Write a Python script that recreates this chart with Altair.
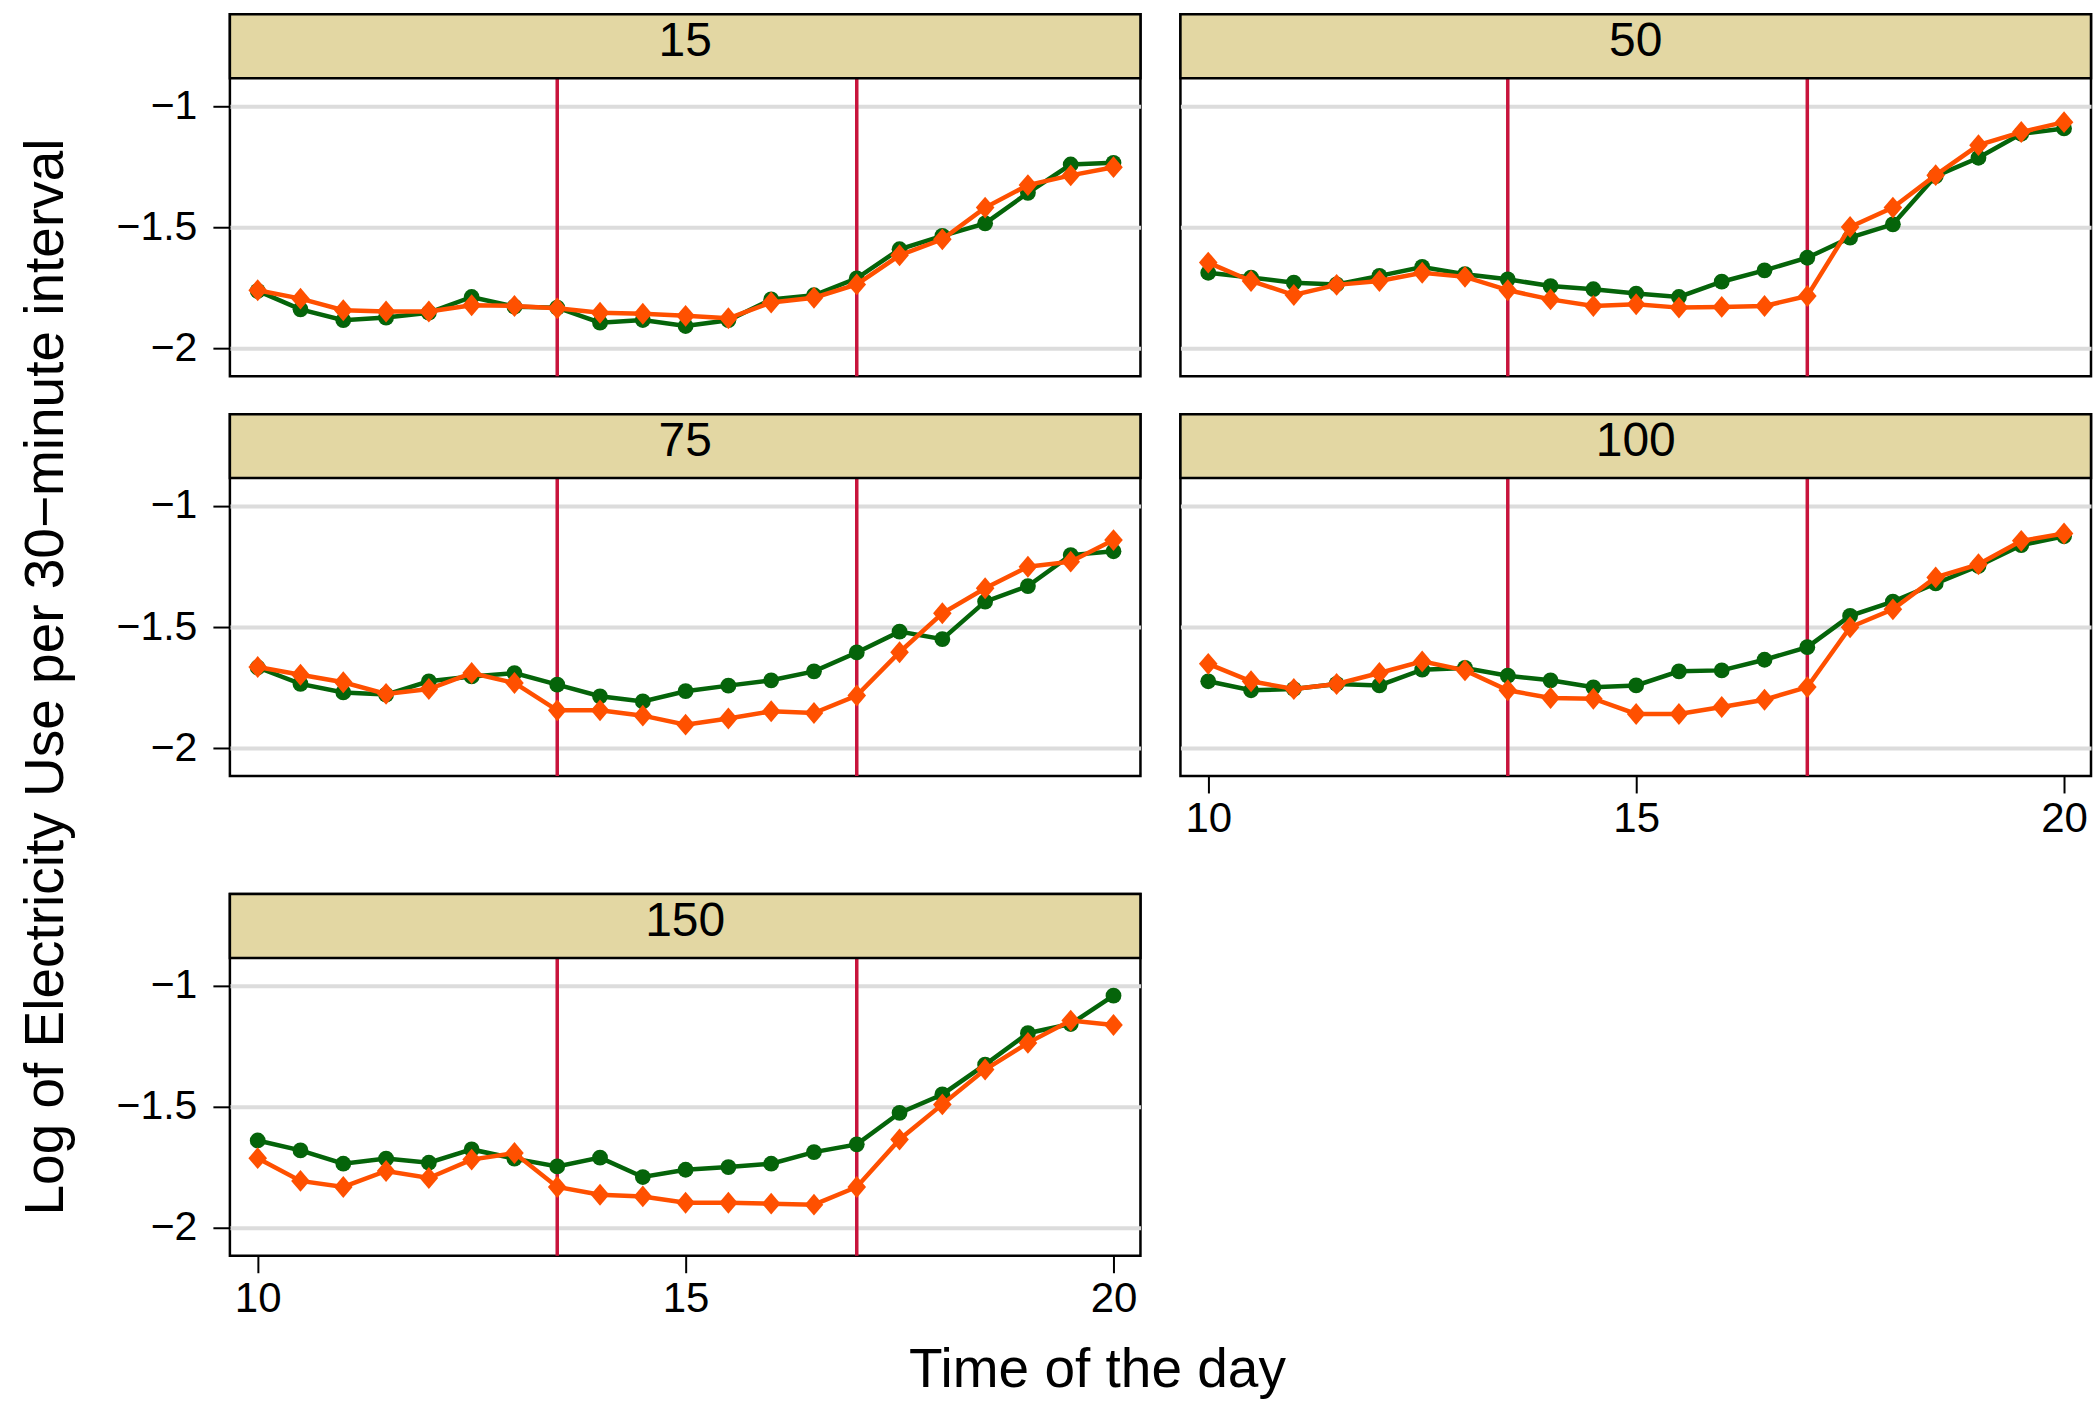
import altair as alt
import pandas as pd

FONT = "Liberation Sans"

# ---------------- data ----------------
times = [10.0, 10.5, 11.0, 11.5, 12.0, 12.5, 13.0, 13.5, 14.0, 14.5, 15.0,
         15.5, 16.0, 16.5, 17.0, 17.5, 18.0, 18.5, 19.0, 19.5, 20.0]

panel_labels = ["15", "50", "75", "100", "150"]

control_15 = [-1.763, -1.839, -1.884, -1.873, -1.853, -1.788, -1.828, -1.832, -1.894, -1.883, -1.908,
              -1.884, -1.798, -1.781, -1.711, -1.591, -1.536, -1.484, -1.358, -1.241, -1.234]
treat_15 = [-1.760, -1.795, -1.843, -1.848, -1.848, -1.822, -1.825, -1.835, -1.853, -1.857, -1.866,
            -1.876, -1.811, -1.791, -1.736, -1.616, -1.550, -1.419, -1.326, -1.286, -1.252]

control_50 = [-1.688, -1.708, -1.729, -1.736, -1.701, -1.664, -1.694, -1.715, -1.743, -1.756, -1.774,
              -1.788, -1.725, -1.678, -1.626, -1.543, -1.488, -1.289, -1.213, -1.114, -1.092]
treat_50 = [-1.646, -1.722, -1.780, -1.738, -1.722, -1.688, -1.705, -1.760, -1.798, -1.825, -1.818,
            -1.832, -1.829, -1.825, -1.784, -1.499, -1.419, -1.285, -1.161, -1.107, -1.066]

control_75 = [-1.667, -1.735, -1.770, -1.779, -1.724, -1.704, -1.690, -1.738, -1.786, -1.807, -1.765,
              -1.742, -1.720, -1.683, -1.605, -1.519, -1.550, -1.395, -1.331, -1.203, -1.187]
treat_75 = [-1.665, -1.697, -1.728, -1.776, -1.756, -1.690, -1.731, -1.844, -1.844, -1.866, -1.903,
            -1.878, -1.848, -1.855, -1.783, -1.604, -1.443, -1.340, -1.251, -1.230, -1.141]

control_100 = [-1.724, -1.761, -1.756, -1.735, -1.741, -1.676, -1.669, -1.701, -1.720, -1.749, -1.741,
               -1.683, -1.679, -1.635, -1.583, -1.454, -1.395, -1.320, -1.248, -1.162, -1.125]
treat_100 = [-1.652, -1.724, -1.756, -1.735, -1.690, -1.642, -1.679, -1.761, -1.793, -1.796, -1.859,
             -1.859, -1.830, -1.800, -1.748, -1.501, -1.427, -1.295, -1.241, -1.144, -1.114]

control_150 = [-1.639, -1.680, -1.735, -1.714, -1.731, -1.676, -1.714, -1.746, -1.710, -1.790, -1.760,
               -1.749, -1.735, -1.687, -1.655, -1.525, -1.449, -1.326, -1.196, -1.158, -1.041]
treat_150 = [-1.712, -1.806, -1.831, -1.765, -1.794, -1.718, -1.691, -1.831, -1.863, -1.870, -1.896,
             -1.896, -1.900, -1.904, -1.831, -1.635, -1.490, -1.346, -1.236, -1.144, -1.162]

control = {"15": control_15, "50": control_50, "75": control_75, "100": control_100, "150": control_150}
treatment = {"15": treat_15, "50": treat_50, "75": treat_75, "100": treat_100, "150": treat_150}

peak_bounds = [13.5, 17.0]
y_ticks = [-2.0, -1.5, -1.0]
x_ticks = [10, 15, 20]

y_title = "Log of Electricity Use per 30\u2212minute interval"
x_title = "Time of the day"

# ---------------- styling ----------------
PW, PH, HH = 911, 298, 64          # plot width, plot height (below strip), strip height
TOTAL_H = PH + HH
GREEN = "#05640A"
ORANGE = "#FF5000"
RED = "#C8143C"
GRID = "#DCDCDC"
STRIP = "#E3D7A3"
DIAMOND = "M-0.85,0L0,-1L0.85,0L0,1Z"

Y_LO, Y_HI = -2.115, -0.885
# extend the top of the domain so that the strip occupies the top HH pixels
Y_TOP = Y_HI + (Y_HI - Y_LO) * HH / PH

xscale = alt.Scale(domain=[9.675, 20.315], nice=False, zero=False)
yscale = alt.Scale(domain=[Y_LO, Y_TOP], nice=False, zero=False)


def panel(label, show_y, show_x):
    if show_x:
        xaxis = alt.Axis(values=x_ticks, format="d", title=None, tickSize=17, tickWidth=2,
                         tickColor="black", labelFontSize=42, labelFont=FONT, labelColor="black",
                         labelPadding=6, domain=False, grid=False, labelFlush=False)
    else:
        xaxis = None
    if show_y:
        yaxis = alt.Axis(values=y_ticks, format="~g", title=None, tickSize=17, tickWidth=2,
                         tickColor="black", labelFontSize=41, labelFont=FONT, labelColor="black",
                         labelPadding=16, domain=False, grid=True, gridColor=GRID, gridWidth=4)
    else:
        yaxis = alt.Axis(values=y_ticks, title=None, labels=False, ticks=False, domain=False,
                         grid=True, gridColor=GRID, gridWidth=4)

    x_enc = alt.X("time:Q", scale=xscale, axis=xaxis)
    y_enc = alt.Y("value:Q", scale=yscale, axis=yaxis)

    layers = []
    series = [(control[label], GREEN, "circle", 250),
              (treatment[label], ORANGE, DIAMOND, 480)]
    for vals, color, shape, size in series:
        df = pd.DataFrame({"time": times, "value": vals})
        line = alt.Chart(df).mark_line(color=color, strokeWidth=4.5).encode(x=x_enc, y=y_enc)
        pts = alt.Chart(df).mark_point(filled=True, opacity=1, color=color, shape=shape,
                                       size=size).encode(x=x_enc, y=y_enc)
        layers += [line, pts]

    rules = alt.Chart(pd.DataFrame({"time": peak_bounds})).mark_rule(
        color=RED, strokeWidth=3.5
    ).encode(x=x_enc, y=alt.value(HH), y2=alt.value(TOTAL_H))

    strip_df = pd.DataFrame({"label": [label]})
    strip = alt.Chart(strip_df).mark_rect(
        fill=STRIP, stroke="black", strokeWidth=2.5
    ).encode(x=alt.value(0), x2=alt.value(PW), y=alt.value(0), y2=alt.value(HH))
    strip_text = alt.Chart(strip_df).mark_text(
        fontSize=48, font=FONT, color="black", align="center", baseline="alphabetic"
    ).encode(x=alt.value(PW / 2), y=alt.value(42), text="label:N")

    return alt.layer(rules, *layers, strip, strip_text).properties(width=PW, height=TOTAL_H)


row1 = alt.hconcat(panel("15", True, False), panel("50", False, False), spacing=34)
row2 = alt.hconcat(panel("75", True, False), panel("100", False, True), spacing=34)
row3 = panel("150", True, True)
grid = alt.vconcat(alt.vconcat(row1, row2, spacing=32), row3, spacing=49)

ytitle_chart = alt.Chart(pd.DataFrame({"t": [y_title]})).mark_text(
    angle=270, fontSize=55, font=FONT, color="black", align="center", baseline="alphabetic"
).encode(
    x=alt.value(61), y=alt.value(663), text="t:N"
).properties(width=100, height=1240, view=alt.ViewBackground(stroke="transparent"))

xtitle_chart = alt.Chart(pd.DataFrame({"t": [x_title]})).mark_text(
    fontSize=55, font=FONT, color="black", align="center", baseline="alphabetic"
).encode(
    x=alt.value(1096), y=alt.value(63), text="t:N"
).properties(width=2080, height=63, view=alt.ViewBackground(stroke="transparent"))

chart = alt.vconcat(
    alt.hconcat(ytitle_chart, grid, spacing=10),
    xtitle_chart,
    spacing=0,
).properties(
    padding={"left": 0, "top": 11, "right": 0, "bottom": 0},
    background="white",
).configure_view(
    stroke="black", strokeWidth=2.5
).configure_axis(
    labelFont=FONT, labelColor="black"
)

chart.save("out.html", embed_options={"renderer": "svg", "actions": False})
